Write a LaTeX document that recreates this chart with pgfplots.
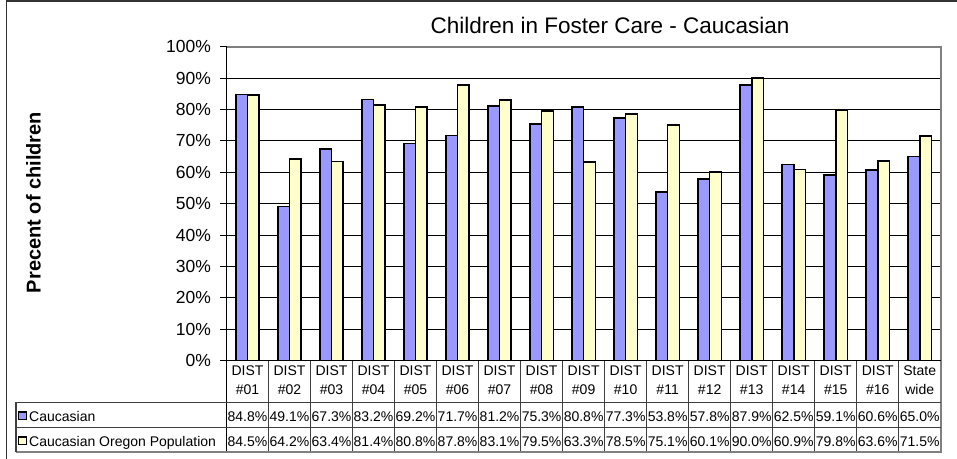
\documentclass[border=0pt]{standalone}
\usepackage{pgfplots}
\pgfplotsset{compat=1.18}
\usepackage{fontspec}
\setmainfont{Liberation Sans}
\definecolor{cblue}{HTML}{9999FF}
\definecolor{cyel}{HTML}{FFFFCC}
\definecolor{bgray}{HTML}{808080}
\begin{document}
\begin{tikzpicture}
\useasboundingbox (0pt,0pt) rectangle (957pt,-458pt);
% outer chart frame (only left and top visible)
\draw[line width=1.6pt, draw=black!80] (6.5pt,-470pt) -- (6.5pt,-0.8pt) -- (970pt,-0.8pt);
\begin{axis}[
  at={(226.5pt,-360.5pt)}, anchor=south west,
  scale only axis, width=714.2pt, height=313.8pt,
  xmin=-0.5, xmax=16.5, ymin=0, ymax=100,
  axis line style={draw=none},
  xtick=\empty,
  ytick={0,10,...,100},
  ytick pos=left,
  yticklabel={\pgfmathprintnumber{\tick}\%},
  /pgf/number format/assume math mode=true,
  yticklabel style={font=\fontsize{17.5}{19}\selectfont, xshift=-5.5pt},
  ymajorgrids, grid style={black, line width=0.8pt},
  tick style={black, line width=0.9pt},
  tick align=outside, major tick length=6.5pt,
  ybar=0pt, bar width=0.28,
  clip=false,
]
\addplot[fill=cblue, draw=black, line width=1.7pt] coordinates {
(0,84.8) (1,49.1) (2,67.3) (3,83.2) (4,69.2) (5,71.7) (6,81.2) (7,75.3) (8,80.8)
(9,77.3) (10,53.8) (11,57.8) (12,87.9) (13,62.5) (14,59.1) (15,60.6) (16,65.0)};
\addplot[fill=cyel, draw=black, line width=1.7pt] coordinates {
(0,84.5) (1,64.2) (2,63.4) (3,81.4) (4,80.8) (5,87.8) (6,83.1) (7,79.5) (8,63.3)
(9,78.5) (10,75.1) (11,60.1) (12,90.0) (13,60.9) (14,79.8) (15,63.6) (16,71.5)};
\end{axis}
% plot area border
\draw[bgray, line width=1.6pt] (226.5pt,-46.7pt) -- (940.7pt,-46.7pt) -- (940.7pt,-452pt);
% axis lines
\draw[black, line width=1.4pt] (226.5pt,-46.7pt) -- (226.5pt,-452pt);
\draw[black, line width=1.2pt] (220pt,-360.5pt) -- (940.7pt,-360.5pt);
% table grid
\foreach \k in {1,...,16} {
  \draw[black!75, line width=1pt] ({(226.5+42.012*\k)*1pt},-360.5pt) -- ({(226.5+42.012*\k)*1pt},-452pt);
}
\draw[black!75, line width=1pt] (16pt,-402pt) -- (940.7pt,-402pt);
\draw[black!75, line width=1pt] (16pt,-427pt) -- (940.7pt,-427pt);
\draw[bgray, line width=1.3pt] (16pt,-452pt) -- (941.5pt,-452pt);
\draw[black!75, line width=1.2pt] (16pt,-402pt) -- (16pt,-452pt);
% header labels
\foreach \lab [count=\i from 0] in {01,02,03,04,05,06,07,08,09,10,11,12,13,14,15,16} {
  \node[anchor=base, inner sep=0pt, font=\fontsize{14}{16}\selectfont] at ({(226.5+42.012*(\i+0.5))*1pt},-375.7pt) {DIST};
  \node[anchor=base, inner sep=0pt, font=\fontsize{14}{16}\selectfont] at ({(226.5+42.012*(\i+0.5))*1pt},-394pt) {\#\lab};
}
\node[anchor=base, inner sep=0pt, font=\fontsize{14}{16}\selectfont] at ({(226.5+42.012*16.5)*1pt},-375.7pt) {State};
\node[anchor=base, inner sep=0pt, font=\fontsize{14}{16}\selectfont] at ({(226.5+42.012*16.5)*1pt},-394pt) {wide};
% data rows
\foreach \v [count=\i from 0] in {84.8,49.1,67.3,83.2,69.2,71.7,81.2,75.3,80.8,77.3,53.8,57.8,87.9,62.5,59.1,60.6,65.0} {
  \node[anchor=base, inner sep=0pt, font=\fontsize{14}{16}\selectfont] at ({(226.5+42.012*(\i+0.5))*1pt},-421pt) {\v\%};
}
\foreach \v [count=\i from 0] in {84.5,64.2,63.4,81.4,80.8,87.8,83.1,79.5,63.3,78.5,75.1,60.1,90.0,60.9,79.8,63.6,71.5} {
  \node[anchor=base, inner sep=0pt, font=\fontsize{14}{16}\selectfont] at ({(226.5+42.012*(\i+0.5))*1pt},-446pt) {\v\%};
}
% legend keys in table
\draw[fill=cblue, draw=black, line width=1.3pt] (18.8pt,-411.9pt) rectangle (26.4pt,-419.8pt);
\draw[fill=cyel, draw=black, line width=1.3pt] (18.8pt,-436.9pt) rectangle (26.4pt,-444.8pt);
\node[anchor=base west, inner sep=0pt, font=\fontsize{14}{16}\selectfont] at (29pt,-421pt) {Caucasian};
\node[anchor=base west, inner sep=0pt, font=\fontsize{14}{16}\selectfont] at (29pt,-446pt) {Caucasian Oregon Population};
% title and y label
\node[anchor=base, inner sep=0pt, font=\fontsize{22.5}{25}\selectfont] at (610pt,-33.3pt) {Children in Foster Care - Caucasian};
\node[anchor=base, inner sep=0pt, rotate=90, font=\fontsize{20}{22}\selectfont\bfseries] at (40.5pt,-202.5pt) {Precent of children};
\end{tikzpicture}
\end{document}
